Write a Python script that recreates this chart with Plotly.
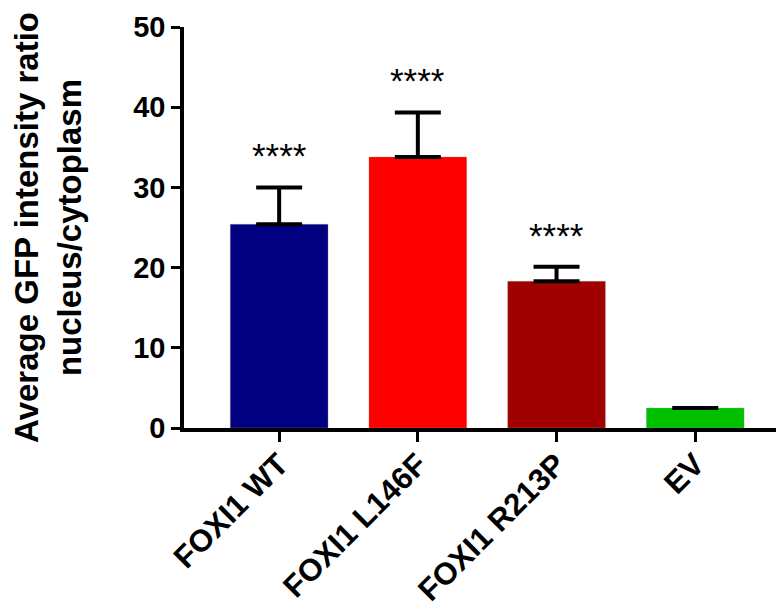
import plotly.graph_objects as go

categories = ["FOXI1 WT", "FOXI1 L146F", "FOXI1 R213P", "EV"]
means = [25.4, 33.8, 18.3, 2.5]
errors = [4.6, 5.55, 1.8, 0.0]
colors = ["#000080", "#FF0000", "#A00000", "#00C000"]
stars = ["****", "****", "****", ""]
y_ticks = [0, 10, 20, 30, 40, 50]

FONT = "Liberation Sans, Arial, sans-serif"

fig = go.Figure()
fig.add_trace(go.Bar(
    x=list(range(len(categories))),
    y=means,
    width=0.705,
    marker=dict(color=colors, line=dict(color="rgba(160,160,160,0.6)", width=0.5)),
    error_y=dict(type="data", array=errors, arrayminus=[0] * len(errors),
                 symmetric=False, color="black", thickness=4, width=23),
    showlegend=False,
))

for i, s in enumerate(stars):
    if s:
        fig.add_annotation(x=i, y=means[i] + errors[i], text=s, showarrow=False,
                           yanchor="bottom", yshift=10,
                           font=dict(family=FONT, size=35, color="black"))

# page body adds an 8px offset, so the figure is 8px smaller and shifted
fig.update_layout(
    width=776, height=600,
    margin=dict(l=176, r=0, t=19, b=180),
    paper_bgcolor="white", plot_bgcolor="white",
    font=dict(family=FONT, color="black"),
)
fig.update_xaxes(
    range=[-0.686, 3.64], automargin=False,
    tickvals=list(range(len(categories))), ticktext=categories,
    tickangle=-45, ticks="outside", ticklen=10, tickwidth=3, tickcolor="black",
    ticklabelstandoff=-8,
    showline=True, linecolor="black", linewidth=3.5,
    showgrid=False, zeroline=False,
    tickfont=dict(family=FONT, size=31, color="black", weight="bold"),
)
fig.update_yaxes(
    range=[0, 50], tickvals=y_ticks, automargin=False,
    ticks="outside", ticklen=9, tickwidth=3, tickcolor="black",
    showline=True, linecolor="black", linewidth=3.5,
    showgrid=False, zeroline=False,
    tickfont=dict(family=FONT, size=29, color="black", weight="bold"),
    title=dict(text="Average GFP intensity ratio<br>nucleus/cytoplasm",
               font=dict(family=FONT, size=33, color="black", weight="bold"),
               standoff=55),
)

fig.write_html("out.html")
